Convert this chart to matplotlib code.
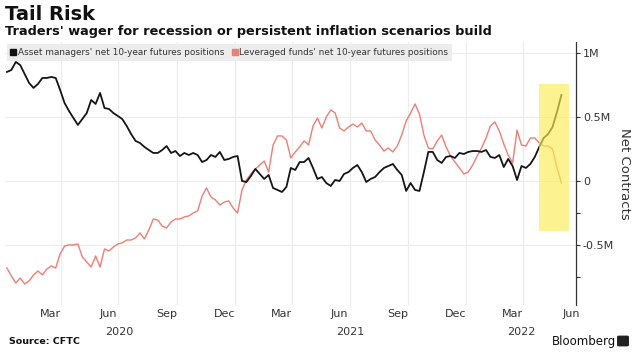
import pandas as pd
import matplotlib
matplotlib.use("Agg")
import matplotlib.pyplot as plt
from matplotlib.lines import Line2D
from matplotlib.patches import FancyBboxPatch

# weekly CFTC positions, thousands of contracts
start_week = "2020-01-07"
asset_managers = [
    852, 867, 930, 906, 836, 766, 727, 758, 805, 805, 813, 805, 711, 609, 547, 492,
    438, 484, 531, 633, 602, 688, 570, 563, 531, 508, 484, 430, 367, 313, 297, 266,
    242, 219, 219, 242, 273, 219, 234, 195, 219, 203, 219, 203, 148, 164, 203, 188,
    227, 164, 172, 188, 195, 0, -8, 39, 94, 55, 16, 47, -55, -70, -86, -47,
    102, 86, 148, 148, 180, 102, 16, 31, -16, -39, 8, 0, 55, 70, 102, 125,
    70, -8, 16, 31, 70, 102, 117, 133, 86, 47, -78, -16, -70, -78, 70, 227,
    227, 164, 141, 188, 195, 180, 219, 211, 227, 234, 234, 227, 242, 188, 180, 203,
    109, 172, 117, 8, 117, 102, 133, 188, 266, 336, 367, 422, 539, 672,
]
leveraged_funds = [
    -680, -742, -797, -758, -805, -781, -734, -703, -734, -688, -664, -680, -570, -508, -500, -500,
    -492, -594, -633, -672, -586, -672, -531, -547, -516, -492, -484, -461, -461, -445, -406, -453,
    -383, -297, -305, -352, -367, -320, -297, -297, -281, -273, -250, -234, -117, -55, -125, -148,
    -188, -164, -156, -211, -250, -70, 8, 55, 94, 125, 156, 70, 281, 352, 352, 320,
    180, 227, 266, 313, 281, 430, 492, 414, 500, 555, 531, 414, 391, 422, 445, 422,
    453, 391, 391, 320, 281, 234, 258, 227, 273, 359, 469, 531, 602, 523, 359, 258,
    250, 313, 359, 266, 195, 148, 102, 55, 70, 125, 195, 258, 336, 430, 461, 391,
    289, 203, 141, 398, 281, 273, 336, 336, 297, 273, 273, 250, 102, -16,
]
y_ticks = [1000, 500, 0, -500]
y_labels = ["1M", "0.5M", "0", "-0.5M"]
month_labels = ["Mar", "Jun", "Sep", "Dec", "Mar", "Jun", "Sep", "Dec", "Mar", "Jun"]
month_dates = ["2020-03-15", "2020-06-15", "2020-09-15", "2020-12-15", "2021-03-15",
               "2021-06-15", "2021-09-15", "2021-12-15", "2022-03-15", "2022-06-15"]
years = ["2020", "2021", "2022"]
year_dates = ["2020-07-02", "2021-07-02", "2022-03-28"]
highlight = ("2022-04-26", "2022-06-12", -390, 760)

dates = pd.date_range(start_week, periods=len(asset_managers), freq="7D")
df = pd.DataFrame({"am": asset_managers, "lf": leveraged_funds}, index=dates)

fig = plt.figure(figsize=(6.32, 3.53), dpi=100)
W, H = 632, 353
ax = fig.add_axes([5 / W, 1 - 305 / H, 571 / W, 263 / H])

ax.plot(df.index, df["lf"], color="#ef7d74", lw=1.0, zorder=3)
ax.plot(df.index, df["am"], color="#151515", lw=1.3, zorder=4)

h0, h1, hlo, hhi = highlight
ax.fill_between([pd.Timestamp(h0), pd.Timestamp(h1)], hlo, hhi,
                color="#fbee55", alpha=0.65, lw=0, zorder=5)

ax.set_xlim(pd.Timestamp("2020-01-04"), pd.Timestamp("2022-06-23"))
ax.set_ylim(-969, 1086)

for s in ["left", "top", "bottom"]:
    ax.spines[s].set_visible(False)
ax.spines["right"].set_color("#333333")
ax.spines["right"].set_linewidth(0.9)

ax.yaxis.tick_right()
ax.set_yticks(y_ticks)
ax.set_yticklabels(y_labels)
ax.set_yticks([-250, -750], minor=True)
ax.tick_params(axis="y", which="both", length=3, width=0.8, color="#333333",
               labelsize=8, labelcolor="#333333", pad=2)
ax.grid(axis="y", color="#ececec", lw=0.8, zorder=0)

ax.set_xticks(pd.to_datetime(month_dates))
ax.set_xticklabels(month_labels)
ax.set_xticks(pd.date_range("2020-04-01", "2022-04-01", freq="QS"), minor=True)
ax.tick_params(axis="x", which="both", length=0, labelsize=8, labelcolor="#333333", pad=3)
ax.grid(axis="x", which="minor", color="#ececec", lw=0.8, zorder=0)

for yr, d in zip(years, year_dates):
    ax.text(pd.Timestamp(d), -0.085, yr, transform=ax.get_xaxis_transform(),
            ha="center", va="top", fontsize=8, color="#333333")

ax.yaxis.set_label_position("right")
ax.set_ylabel("Net Contracts", rotation=270, fontsize=9.5, color="#333333", labelpad=12)

handles = [Line2D([], [], marker="s", ls="", color="#111111", markersize=4.5),
           Line2D([], [], marker="s", ls="", color="#ef7d74", markersize=4.5)]
leg = ax.legend(handles, ["Asset managers' net 10-year futures positions",
                          "Leveraged funds' net 10-year futures positions"],
                loc="upper left", bbox_to_anchor=(0.0, 1.0), ncol=2, fontsize=6.4,
                frameon=True, fancybox=False, facecolor="#ececec", edgecolor="none",
                framealpha=1, handlelength=0.6, handletextpad=0.2, columnspacing=0.9,
                borderpad=0.45, borderaxespad=0.2)
leg.set_zorder(6)
for t in leg.get_texts():
    t.set_color("#333333")

fig.text(5 / W, 1 - 14 / H, "Tail Risk", fontsize=14, fontweight="bold",
         color="#111111", va="center", ha="left")
fig.text(5 / W, 1 - 31 / H, "Traders' wager for recession or persistent inflation scenarios build",
         fontsize=9.3, fontweight="bold", color="#111111", va="center", ha="left")
fig.text(9 / W, 1 - 341 / H, "Source: CFTC", fontsize=6.8, fontweight="bold",
         color="#111111", va="center", ha="left")
fig.text(616 / W, 1 - 341 / H, "Bloomberg", fontsize=8.5, color="#111111",
         va="center", ha="right")
fig.patches.append(FancyBboxPatch((619 / W, 1 - 345 / H), 8 / W, 8 / H,
                                  boxstyle="round,pad=0.002", transform=fig.transFigure,
                                  color="#222222"))

fig.savefig("out.png", dpi=100)
